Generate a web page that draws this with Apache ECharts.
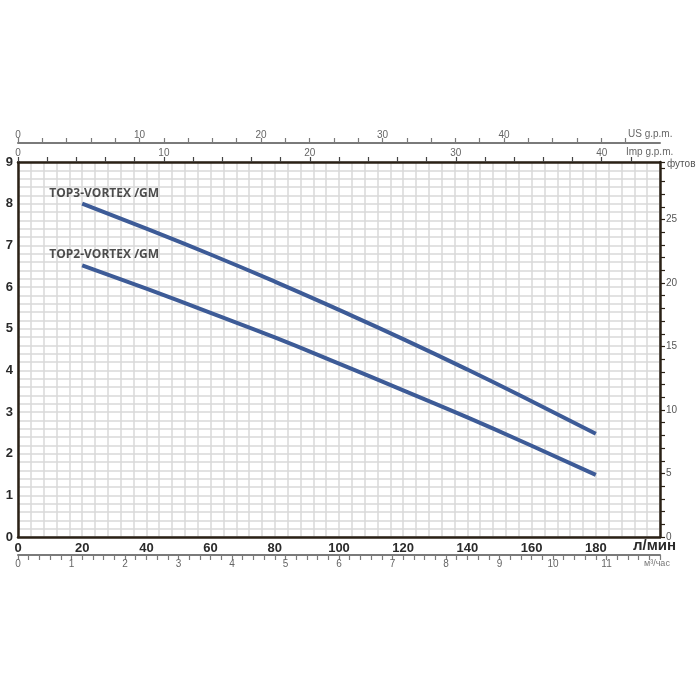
<!DOCTYPE html>
<html>
<head>
<meta charset="utf-8">
<script src="https://cdn.jsdelivr.net/npm/echarts@6/dist/echarts.min.js"></script>
<style>html,body{margin:0;padding:0;background:#fff;}#c{width:700px;height:700px;}</style>
</head>
<body>
<div id="c"></div>
<script>
// ---- data ----
const flowLpm = [20, 40, 60, 80, 100, 120, 140, 160, 180];
const top3Head = [8.00, 7.40, 6.78, 6.13, 5.45, 4.75, 4.02, 3.26, 2.48];
const top2Head = [6.52, 5.96, 5.38, 4.79, 4.16, 3.52, 2.87, 2.19, 1.49];
const seriesNames = ['TOP3-VORTEX /GM', 'TOP2-VORTEX /GM'];
const unitLabels = { lpm: 'л/мин', m3h: 'м³/час', feet: 'футов', usgpm: 'US g.p.m.', impgpm: 'Imp g.p.m.' };

// ---- conversions ----
const X_MAX = 200;            // l/min
const Y_MAX = 9;              // m
const IMP = 4.54609, US = 3.78541, FT = 3.28084;

const GL = 18, GR = 40, GT = 162, GB = 163;
const plotW = 700 - GL - GR;
const pxPerLpm = plotW / X_MAX;

const narrow = "'Liberation Sans Narrow', 'Liberation Sans', Arial, sans-serif";
const gridCol = '#d9d9d9';
const frameCol = '#2a2116';
const auxCol = '#7a7a7a';
const lineCol = '#3d5b97';

const isInt = v => Math.abs(v - Math.round(v)) < 1e-6;

const chart = echarts.init(document.getElementById('c'));
chart.setOption({
  animation: false,
  backgroundColor: '#fff',
  grid: [
    { left: GL, right: GR, top: GT, bottom: GB },
    { left: GL, width: 42 * IMP * pxPerLpm, top: GT, bottom: GB },
    { left: GL, width: 50 * US * pxPerLpm, top: GT, bottom: GB }
  ],
  xAxis: [
    { // main l/min
      type: 'value', gridIndex: 0, position: 'bottom', min: 0, max: X_MAX, interval: 20,
      axisLine: { show: true, onZero: false, lineStyle: { color: frameCol, width: 2.5 } },
      axisTick: { show: false },
      minorTick: { show: false, splitNumber: 5 },
      splitLine: { show: true, lineStyle: { color: gridCol, width: 1.5 } },
      minorSplitLine: { show: true, lineStyle: { color: gridCol, width: 1.5 } },
      axisLabel: { margin: 5, fontFamily: narrow, fontWeight: 'bold', fontSize: 13, color: '#2a2a2a',
        formatter: v => (v >= X_MAX ? '' : String(v)) }
    },
    { // top frame
      type: 'value', gridIndex: 0, position: 'top', min: 0, max: X_MAX,
      axisLine: { show: true, onZero: false, lineStyle: { color: frameCol, width: 2.5 } },
      axisTick: { show: false }, axisLabel: { show: false }, splitLine: { show: false }
    },
    { // US gpm axis line
      type: 'value', gridIndex: 0, position: 'top', offset: 19, min: 0, max: X_MAX,
      axisLine: { show: true, onZero: false, lineStyle: { color: auxCol, width: 2 } },
      axisTick: { show: false }, axisLabel: { show: false }, splitLine: { show: false }
    },
    { // m3/h
      type: 'value', gridIndex: 0, position: 'bottom', offset: 18, min: 0, max: 12, interval: 1,
      axisLine: { show: true, onZero: false, lineStyle: { color: auxCol, width: 2 } },
      axisTick: { show: true, length: 5, lineStyle: { color: auxCol, width: 1.2 } },
      minorTick: { show: true, splitNumber: 5, length: 5, lineStyle: { color: auxCol, width: 1.2 } },
      splitLine: { show: false },
      axisLabel: { margin: 4, fontFamily: narrow, fontSize: 10, color: '#666',
        formatter: v => (v >= 12 ? '' : String(v)) }
    },
    { // Imp gpm ticks
      type: 'value', gridIndex: 1, position: 'top', min: 0, max: 42, interval: 2,
      axisLine: { show: false, onZero: false },
      axisTick: { show: true, length: 5, lineStyle: { color: '#444', width: 1.2 } },
      splitLine: { show: false },
      axisLabel: { interval: 0, margin: 4, fontFamily: narrow, fontSize: 10, color: '#666',
        formatter: v => (v % 10 === 0 && v < 42 ? String(v) : '') }
    },
    { // US gpm ticks
      type: 'value', gridIndex: 2, position: 'top', offset: 19, min: 0, max: 50, interval: 2,
      axisLine: { show: false, onZero: false },
      axisTick: { show: true, length: 5, lineStyle: { color: auxCol, width: 1.2 } },
      splitLine: { show: false },
      axisLabel: { interval: 0, margin: 3, fontFamily: narrow, fontSize: 10, color: '#666',
        formatter: v => (v % 10 === 0 && v < 50 ? String(v) : '') }
    }
  ],
  yAxis: [
    { // meters
      type: 'value', gridIndex: 0, position: 'left', min: 0, max: Y_MAX, interval: 1,
      axisLine: { show: true, onZero: false, lineStyle: { color: frameCol, width: 2.5 } },
      axisTick: { show: false },
      minorTick: { show: false, splitNumber: 5 },
      splitLine: { show: true, lineStyle: { color: gridCol, width: 1.5 } },
      minorSplitLine: { show: true, lineStyle: { color: gridCol, width: 1.5 } },
      axisLabel: { margin: 5, fontFamily: narrow, fontWeight: 'bold', fontSize: 13, color: '#2a2a2a' }
    },
    { // feet
      type: 'value', gridIndex: 0, position: 'right', min: 0, max: Y_MAX * FT, interval: 1,
      axisLine: { show: true, onZero: false, lineStyle: { color: frameCol, width: 2.5 } },
      axisTick: { show: true, length: 5, lineStyle: { color: frameCol, width: 1.2 } },
      splitLine: { show: false },
      axisLabel: { margin: 6, fontFamily: narrow, fontSize: 10, color: '#555',
        formatter: v => (v > 29.2 ? '' : (isInt(v) && Math.round(v) % 5 === 0 ? String(Math.round(v)) : '')) }
    },
    { type: 'value', gridIndex: 1, show: false, min: 0, max: 1 },
    { type: 'value', gridIndex: 2, show: false, min: 0, max: 1 }
  ],
  graphic: [
    { type: 'text', left: 628, top: 129, style: { text: unitLabels.usgpm, font: '10px ' + narrow, fill: '#666' } },
    { type: 'text', left: 626, top: 147, style: { text: unitLabels.impgpm, font: '10px ' + narrow, fill: '#666' } },
    { type: 'text', left: 667, top: 159, style: { text: unitLabels.feet, font: '10px ' + narrow, fill: '#555' } },
    { type: 'text', left: 633, top: 538, style: { text: unitLabels.lpm, font: 'bold 15px ' + narrow, fill: '#2a2a2a' } },
    { type: 'text', left: 644, top: 559, style: { text: unitLabels.m3h, font: '9px ' + narrow, fill: '#777' } }
  ],
  series: [
    {
      name: seriesNames[0], type: 'line', xAxisIndex: 0, yAxisIndex: 0, smooth: true, symbol: 'none',
      lineStyle: { color: lineCol, width: 4 },
      data: flowLpm.map((q, i) => [q, top3Head[i]])
    },
    {
      name: seriesNames[1], type: 'line', xAxisIndex: 0, yAxisIndex: 0, smooth: true, symbol: 'none',
      lineStyle: { color: lineCol, width: 4 },
      data: flowLpm.map((q, i) => [q, top2Head[i]])
    },
    {
      type: 'scatter', xAxisIndex: 0, yAxisIndex: 0, symbolSize: 1,
      itemStyle: { color: 'rgba(0,0,0,0)' }, silent: true,
      label: { show: true, position: 'top', distance: 4, offset: [22, 0],
        formatter: p => p.data.name, fontFamily: "'Open Sans', sans-serif", fontWeight: 700, fontSize: 12, color: '#222' },
      data: [
        { name: seriesNames[0], value: [flowLpm[0], top3Head[0]] },
        { name: seriesNames[1], value: [flowLpm[0], top2Head[0]] }
      ]
    }
  ]
});
</script>
</body>
</html>
